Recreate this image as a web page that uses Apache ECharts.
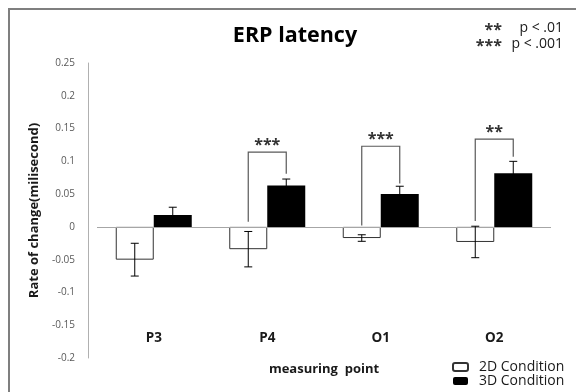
<!DOCTYPE html>
<html>
<head>
<meta charset="utf-8">
<script src="https://cdn.jsdelivr.net/npm/echarts@6/dist/echarts.min.js"></script>
<style>
  html, body { margin: 0; padding: 0; background: #fff; }
  #chart { width: 576px; height: 392px; }
</style>
</head>
<body>
<div id="chart"></div>
<script>
// measuring points
const categories = ['P3', 'P4', 'O1', 'O2'];
// rate of change, mean and error
const mean2D = [-0.05, -0.034, -0.017, -0.023];
const err2D = [0.025, 0.027, 0.005, 0.024];
const mean3D = [0.018, 0.063, 0.050, 0.082];
const err3D = [0.012, 0.010, 0.012, 0.018];
// significance brackets (y values of the left end, top, right end)
const sigStars = ['', '***', '***', '**'];
const bracketLeft = [null, 0.008, 0.002, 0.009];
const bracketTop = [null, 0.114, 0.123, 0.134];
const bracketRight = [null, 0.081, 0.066, 0.107];
// y axis range
const yMin = -0.2;
const yMax = 0.25;
const yStep = 0.05;

const FONT = '"Open Sans", "DejaVu Sans", sans-serif';
const BAR_W = 38;

const chart = echarts.init(document.getElementById('chart'));

// 误差线数据
const errData = function(mean, err) {
  return mean.map((m, i) => [i, m - err[i], m + err[i]]);
};

const errRender = function(offset) {
  return function(params, api) {
    const lo = api.coord([api.value(0), api.value(1)]);
    const hi = api.coord([api.value(0), api.value(2)]);
    const x = lo[0] + offset;
    const cap = 4;
    const style = { stroke: '#000', lineWidth: 1 };
    return {
      type: 'group',
      children: [
        { type: 'line', shape: { x1: x, y1: lo[1], x2: x, y2: hi[1] }, style: style },
        { type: 'line', shape: { x1: x - cap, y1: lo[1], x2: x + cap, y2: lo[1] }, style: style },
        { type: 'line', shape: { x1: x - cap, y1: hi[1], x2: x + cap, y2: hi[1] }, style: style }
      ]
    };
  };
};

const bracketData = [];
categories.forEach((c, i) => {
  if (bracketTop[i] !== null) {
    bracketData.push([i, bracketLeft[i], bracketTop[i], bracketRight[i], sigStars[i]]);
  }
});

const option = {
  animation: false,
  textStyle: { fontFamily: FONT },
  legend: {
    data: ['2D Condition', '3D Condition'],
    orient: 'vertical',
    left: 452,
    top: 360,
    padding: 0,
    itemWidth: 15,
    itemHeight: 8,
    itemGap: 0,
    textStyle: { fontSize: 14, lineHeight: 12, color: '#1a1a1a', fontFamily: FONT, padding: [0, 0, 0, 6] }
  },
  grid: {
    left: 97,
    right: 25,
    top: 63,
    bottom: 34
  },
  xAxis: {
    type: 'category',
    data: categories,
    name: 'measuring  point',
    nameLocation: 'middle',
    nameGap: 5,
    nameTextStyle: { fontSize: 13, fontWeight: 'bold', color: '#1a1a1a', fontFamily: FONT },
    axisLine: { show: false },
    axisTick: { show: false },
    axisLabel: {
      inside: true,
      margin: 13,
      fontSize: 13.5,
      fontWeight: 'bold',
      color: '#1a1a1a',
      fontFamily: FONT
    }
  },
  yAxis: {
    type: 'value',
    min: yMin,
    max: yMax,
    interval: yStep,
    offset: 9,
    name: 'Rate of change(milisecond)',
    nameLocation: 'middle',
    nameGap: 37,
    nameTextStyle: { fontSize: 13, fontWeight: 'bold', color: '#1a1a1a', fontFamily: FONT },
    axisLine: { show: true, lineStyle: { color: '#b0b0b0', width: 1 } },
    axisTick: { show: false },
    splitLine: { show: false },
    axisLabel: {
      margin: 13,
      fontSize: 10,
      color: '#595959',
      fontFamily: FONT,
      formatter: v => parseFloat(v.toFixed(2)).toString()
    }
  },
  graphic: [
    {
      type: 'rect',
      shape: { x: 9, y: 9, width: 600, height: 420 },
      style: { fill: 'none', stroke: '#7f7f7f', lineWidth: 2 }
    },
    {
      type: 'text',
      x: 295,
      y: 36,
      style: { text: 'ERP latency', fontSize: 21.5, fontWeight: 'bold', fill: '#000', fontFamily: FONT, align: 'center', verticalAlign: 'middle' }
    },
    {
      type: 'text',
      x: 502,
      y: 38,
      style: { text: '**', fontSize: 16, fontWeight: 'bold', fill: '#333', fontFamily: FONT, align: 'right', verticalAlign: 'bottom' }
    },
    {
      type: 'text',
      x: 563,
      y: 28,
      style: { text: 'p < .01', fontSize: 14, fill: '#1a1a1a', fontFamily: FONT, align: 'right', verticalAlign: 'middle' }
    },
    {
      type: 'text',
      x: 502,
      y: 54,
      style: { text: '***', fontSize: 16, fontWeight: 'bold', fill: '#333', fontFamily: FONT, align: 'right', verticalAlign: 'bottom' }
    },
    {
      type: 'text',
      x: 563,
      y: 44,
      style: { text: 'p < .001', fontSize: 14, fill: '#1a1a1a', fontFamily: FONT, align: 'right', verticalAlign: 'middle' }
    }
  ],
  series: [
    {
      name: '2D Condition',
      type: 'bar',
      data: mean2D,
      barWidth: BAR_W,
      barGap: '0%',
      itemStyle: { color: '#fff', borderColor: '#333', borderWidth: 1 },
      markLine: {
        silent: true,
        symbol: 'none',
        label: { show: false },
        lineStyle: { color: '#a6a6a6', type: 'solid', width: 1 },
        data: [{ yAxis: 0 }]
      }
    },
    {
      name: '3D Condition',
      type: 'bar',
      data: mean3D,
      barWidth: BAR_W,
      barGap: '0%',
      itemStyle: { color: '#000' }
    },
    {
      type: 'custom',
      z: 5,
      data: errData(mean2D, err2D),
      encode: { x: 0, y: [1, 2] },
      renderItem: errRender(-BAR_W / 2)
    },
    {
      type: 'custom',
      z: 5,
      data: errData(mean3D, err3D),
      encode: { x: 0, y: [1, 2] },
      renderItem: errRender(BAR_W / 2)
    },
    {
      type: 'custom',
      z: 5,
      data: bracketData,
      encode: { x: 0, y: [1, 2, 3] },
      renderItem: function(params, api) {
        const i = api.value(0);
        const l = api.coord([i, api.value(1)]);
        const t = api.coord([i, api.value(2)]);
        const r = api.coord([i, api.value(3)]);
        const x1 = l[0] - BAR_W / 2;
        const x2 = l[0] + BAR_W / 2;
        return {
          type: 'group',
          children: [
            {
              type: 'polyline',
              shape: { points: [[x1, l[1]], [x1, t[1]], [x2, t[1]], [x2, r[1]]] },
              style: { stroke: '#595959', lineWidth: 1.2, fill: 'none' }
            },
            {
              type: 'text',
              x: l[0],
              y: t[1] + 1,
              style: {
                text: api.value(4),
                fontSize: 16,
                fontWeight: 'bold',
                fill: '#333',
                fontFamily: FONT,
                align: 'center',
                verticalAlign: 'bottom'
              }
            }
          ]
        };
      }
    }
  ]
};

chart.setOption(option);
</script>
</body>
</html>
